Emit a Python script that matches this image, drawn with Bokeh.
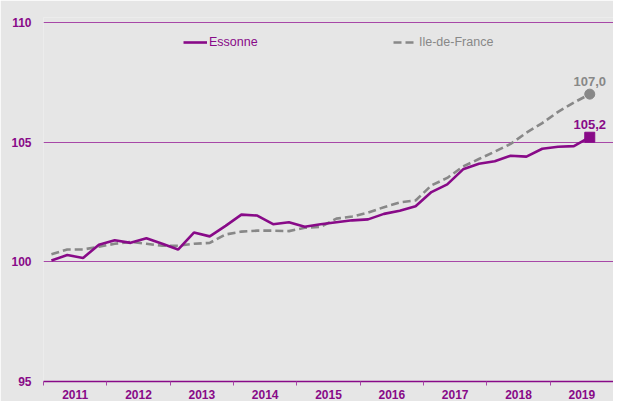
from bokeh.plotting import figure
from bokeh.models import (Range1d, FixedTicker, Legend, LegendItem, ColumnDataSource)
from bokeh.core.properties import value
from bokeh.embed import file_html
from bokeh.resources import INLINE

# ---- data ----
years = [2011, 2012, 2013, 2014, 2015, 2016, 2017, 2018, 2019]
quarters = [(y, q) for y in years for q in (1, 2, 3, 4)][:35]   # 2011-T1 .. 2019-T3
essonne = [100.05, 100.28, 100.16, 100.71, 100.90, 100.79, 100.98, 100.75, 100.51,
           101.22, 101.06, 101.50, 101.97, 101.93, 101.57, 101.65, 101.46, 101.57,
           101.65, 101.73, 101.77, 102.00, 102.13, 102.32, 102.91, 103.23, 103.86,
           104.09, 104.20, 104.43, 104.39, 104.72, 104.80, 104.83, 105.20]
idf = [100.31, 100.51, 100.51, 100.63, 100.75, 100.83, 100.75, 100.67, 100.67,
       100.75, 100.79, 101.14, 101.26, 101.30, 101.30, 101.28, 101.42, 101.46,
       101.80, 101.89, 102.05, 102.28, 102.48, 102.56, 103.19, 103.50, 103.98,
       104.29, 104.60, 104.92, 105.39, 105.79, 106.26, 106.65, 107.00]
y_ticks = [95, 100, 105, 110]
last_labels = ["105,2", "107,0"]

PURPLE = "#880a88"
GRID = "#a748a7"
GRAY = "#888888"
BG = "#e6e6e6"
FONT = "Liberation Sans"

x = [y + (q - 0.5) / 4 for (y, q) in quarters]

p = figure(width=613, height=401, output_backend="svg", toolbar_location=None,
           x_range=Range1d(years[0], years[-1] + 1), y_range=Range1d(95, 110.2),
           min_border_left=43, min_border_right=0, min_border_top=17, min_border_bottom=18)
p.background_fill_color = BG
p.border_fill_color = BG
p.outline_line_color = None

# y axis
p.yaxis.ticker = FixedTicker(ticks=y_ticks)
p.yaxis.axis_line_color = None
p.yaxis.major_tick_line_color = None
p.yaxis.major_tick_out = 0
p.yaxis.major_tick_in = 0
p.yaxis.minor_tick_line_color = None
p.yaxis.major_label_standoff = 12
p.yaxis.major_label_text_font = FONT
p.yaxis.major_label_text_font_style = "bold"
p.yaxis.major_label_text_font_size = "12px"
p.yaxis.major_label_text_color = PURPLE

# x axis: labels at year centres, ticks at year boundaries
centres = [y + 0.5 for y in years]
p.xaxis.ticker = FixedTicker(ticks=centres, minor_ticks=years + [years[-1] + 1])
p.xaxis.major_label_overrides = {c: str(y) for c, y in zip(centres, years)}
p.xaxis.major_tick_line_color = None
p.xaxis.major_tick_out = 0
p.xaxis.major_tick_in = 0
p.xaxis.minor_tick_line_color = GRID
p.xaxis.minor_tick_out = 4
p.xaxis.minor_tick_in = 0
p.xaxis.axis_line_color = PURPLE
p.xaxis.axis_line_width = 1.5
p.xaxis.major_label_standoff = 4
p.xaxis.major_label_text_font = FONT
p.xaxis.major_label_text_font_style = "bold"
p.xaxis.major_label_text_font_size = "12px"
p.xaxis.major_label_text_color = PURPLE

p.xgrid.grid_line_color = None
p.ygrid.ticker = FixedTicker(ticks=[t for t in y_ticks if t > 95])
p.ygrid.grid_line_color = GRID
p.ygrid.grid_line_width = 1

src = ColumnDataSource(dict(x=x, ess=essonne, idf=idf))
r_idf = p.line("x", "idf", source=src, line_color=GRAY, line_width=2.6, line_dash="8 4")
r_ess = p.line("x", "ess", source=src, line_color=PURPLE, line_width=2.6)

# end markers and labels
p.scatter([x[-1]], [essonne[-1]], marker="square", size=10, color=PURPLE)
p.scatter([x[-1]], [idf[-1]], marker="circle", size=10, color=GRAY)
p.text([x[-1]], [essonne[-1]], text=[last_labels[0]], text_align="center",
       text_baseline="bottom", y_offset=-8, text_font=value(FONT),
       text_font_style="bold", text_font_size="13px", text_color=PURPLE)
p.text([x[-1]], [idf[-1]], text=[last_labels[1]], text_align="center",
       text_baseline="bottom", y_offset=-8, text_font=value(FONT),
       text_font_style="bold", text_font_size="13px", text_color=GRAY)

# legends
for item_label, rend, col, loc in [("Essonne", r_ess, PURPLE, (140, 332)),
                                   ("Ile-de-France", r_idf, GRAY, (350, 332))]:
    lg = Legend(items=[LegendItem(label=item_label, renderers=[rend])],
                location=loc, orientation="horizontal",
                background_fill_alpha=0, border_line_color=None,
                padding=0, margin=0, glyph_width=24, glyph_height=14,
                label_height=14, label_standoff=2,
                label_text_font=FONT, label_text_font_size="12.5px",
                label_text_color=col)
    p.add_layout(lg, "center")

open("out.html", "w").write(file_html(p, INLINE))
